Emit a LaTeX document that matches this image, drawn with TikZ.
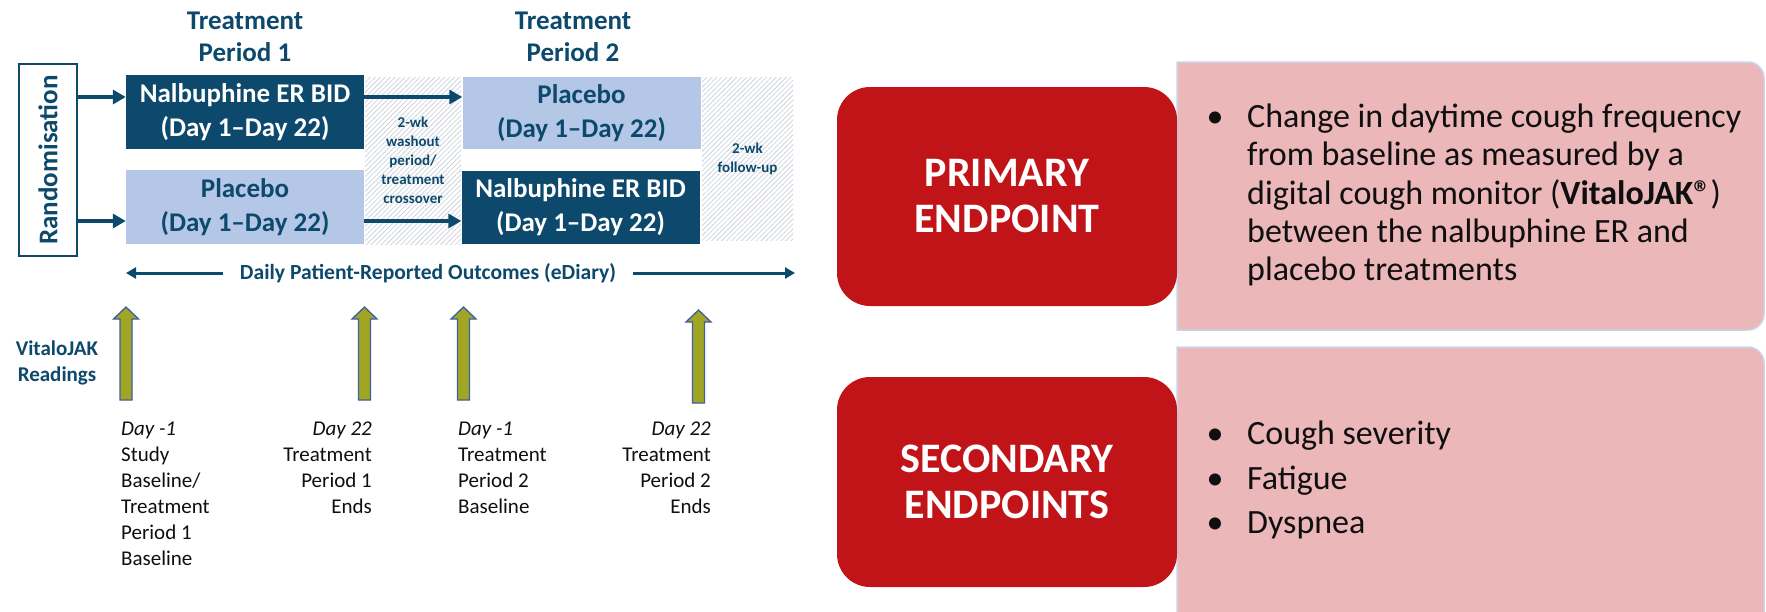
\documentclass[tikz,border=0pt]{standalone}
\usepackage{fontspec}
\usepackage{graphicx}
\setmainfont{Carlito}
\usetikzlibrary{arrows.meta,patterns.meta}

\definecolor{navy}{RGB}{12,73,108}
\definecolor{paleblue}{RGB}{180,199,231}
\definecolor{endred}{RGB}{192,20,24}
\definecolor{pinkbg}{RGB}{235,183,185}
\definecolor{pinkedge}{RGB}{204,212,236}
\definecolor{olivefill}{RGB}{160,166,36}
\definecolor{oliveedge}{RGB}{62,95,160}
\definecolor{hatchgrey}{RGB}{208,214,222}
\definecolor{bodytext}{RGB}{15,15,15}

\newcommand{\fsz}[2]{\fontsize{#1}{#2}\selectfont}

\begin{document}
\begin{tikzpicture}[x=1pt,y=-1pt,
  darkbox/.style={fill=navy,text=white,minimum width=238pt,minimum height=74pt,
    inner sep=0pt,align=center,font=\fsz{27}{34}\bfseries},
  lightbox/.style={fill=paleblue,text=navy,minimum width=238pt,minimum height=74pt,
    inner sep=0pt,align=center,font=\fsz{27}{34}\bfseries},
  hatchbox/.style={pattern={Lines[angle=45,distance=3.5pt,line width=0.8pt]},
    pattern color=hatchgrey,inner sep=0pt,align=center,text=navy,
    font=\fsz{15}{19}\bfseries},
  periodtitle/.style={text=navy,align=center,inner sep=0pt,font=\fsz{27}{32}\bfseries},
  flow/.style={draw=navy,line width=4pt,-{Triangle[length=13pt,width=14pt]}},
  diary/.style={draw=navy,line width=3pt,-{Triangle[length=10pt,width=11pt]}},
  daylabel/.style={text=bodytext,inner sep=0pt,font=\fsz{21}{26}},
  endpoint/.style={fill=endred,text=white,rounded corners=33pt,minimum width=340pt,
    align=center,inner sep=0pt,font=\fsz{42}{46}\bfseries},
  pinkpanel/.style={fill=pinkbg,draw=pinkedge,line width=1.5pt},
  bullettext/.style={text=bodytext,inner sep=0pt,align=left,anchor=west},
  bulletmark/.style={text=bodytext,inner sep=0pt,font=\fsz{34}{38}},
  upblock/.pic={
    \draw[fill=olivefill,draw=oliveedge,line width=1.3pt,line join=miter]
      (-6,0) -- (-6,-81) -- (-12.5,-81) -- (0,-93) -- (12.5,-81) -- (6,-81) -- (6,0) -- cycle;
  }
]
\useasboundingbox (0,0) rectangle (1766,611);
\fill[white] (0,0) rectangle (1766,611);

% ---------- study design timeline ----------
\node[periodtitle] (t1) at (245,37) {Treatment\\Period 1};
\node[periodtitle] (t2) at (573,37) {Treatment\\Period 2};

\node[draw=navy,line width=2pt,fill=white,minimum width=58pt,minimum height=192pt,
      inner sep=0pt,text=navy,font=\fsz{27}{32}\bfseries] (rand) at (48,160)
      {\rotatebox{90}{Randomisation}};

% hatched washout and follow-up intervals
\node[hatchbox,minimum width=96pt,minimum height=167pt] (wash) at (413,160.5)
      {2-wk\\washout\\period/\\treatment\\crossover};
\node[hatchbox,minimum width=91pt,minimum height=163pt] (follow) at (747.5,158.5)
      {2-wk\\follow-up};

% treatment blocks
\node[darkbox] (n1) at (245,112) {Nalbuphine ER BID\\(Day 1–Day 22)};
\node[lightbox] (p1) at (245,207) {Placebo\\(Day 1–Day 22)};
\node[lightbox,minimum height=72pt] (p2) at (581.5,113) {Placebo\\(Day 1–Day 22)};
\node[darkbox,minimum height=73pt] (n2) at (580.5,207.5) {Nalbuphine ER BID\\(Day 1–Day 22)};

\coordinate (row1) at (0,97);
\coordinate (row2) at (0,221);
\draw[flow] (rand.east |- row1) -- (n1.west |- row1);
\draw[flow] (rand.east |- row2) -- (p1.west |- row2);
\draw[flow] (n1.east |- row1) -- (p2.west |- row1);
\draw[flow] (p1.east |- row2) -- (n2.west |- row2);

% patient-reported outcomes span
\node[text=navy,inner sep=0pt,font=\fsz{21.6}{25}\bfseries] (diaryl) at (428,273)
      {Daily Patient-Reported Outcomes (eDiary)};
\coordinate (dl) at (126,273);
\coordinate (dr) at (795,273);
\draw[diary] ([xshift=-17pt]diaryl.west) -- (dl);
\draw[diary] ([xshift=17pt]diaryl.east) -- (dr);

% VitaloJAK reading time points
\node[text=navy,align=center,inner sep=0pt,font=\fsz{21}{26}\bfseries] (vj) at (57,363)
      {VitaloJAK\\Readings};
\pic (r1) at (126,400) {upblock};
\pic (r2) at (364.5,400) {upblock};
\pic (r3) at (463.5,400) {upblock};
\pic (r4) at (698.5,403) {upblock};

\node[daylabel,anchor=west,align=left] (d1) at (121,494)
      {\textit{Day -1}\\Study\\Baseline/\\Treatment\\Period 1\\Baseline};
\node[daylabel,anchor=east,align=right] (d2) at (372,468)
      {\textit{Day 22}\\Treatment\\Period 1\\Ends};
\node[daylabel,anchor=west,align=left] (d3) at (458,468)
      {\textit{Day -1}\\Treatment\\Period 2\\Baseline};
\node[daylabel,anchor=east,align=right] (d4) at (711,468)
      {\textit{Day 22}\\Treatment\\Period 2\\Ends};

% ---------- endpoints ----------
\path[pinkpanel] (1177,62) -- (1600,62) [rounded corners=16pt] -- (1764,62) -- (1764,330)
      -- (1600,330) [sharp corners] -- (1177,330) -- cycle;
\path[pinkpanel] (1177,347) -- (1600,347) [rounded corners=16pt] -- (1764,347) -- (1764,640)
      -- (1600,640) [sharp corners] -- (1177,640) -- cycle;

\node[endpoint,minimum height=219pt] (prim) at (1007,196.5) {PRIMARY\\ENDPOINT};
\node[endpoint,minimum height=210pt] (sec) at (1007,482) {SECONDARY\\ENDPOINTS};

\node[bulletmark] (pb1) at (1215,120) {•};
\node[bullettext,font=\fsz{34}{38.3}] (ptext) at (1247,195)
      {Change in daytime cough frequency\\from baseline as measured by a\\digital cough monitor (\textbf{VitaloJAK®})\\between the nalbuphine ER and\\placebo treatments};

\node[bulletmark] (sb1) at (1215,437) {•};
\node[bulletmark] (sb2) at (1215,482) {•};
\node[bulletmark] (sb3) at (1215,526) {•};
\node[bullettext,font=\fsz{34}{44.5}] (stext) at (1247,480)
      {Cough severity\\Fatigue\\Dyspnea};
\end{tikzpicture}
\end{document}
